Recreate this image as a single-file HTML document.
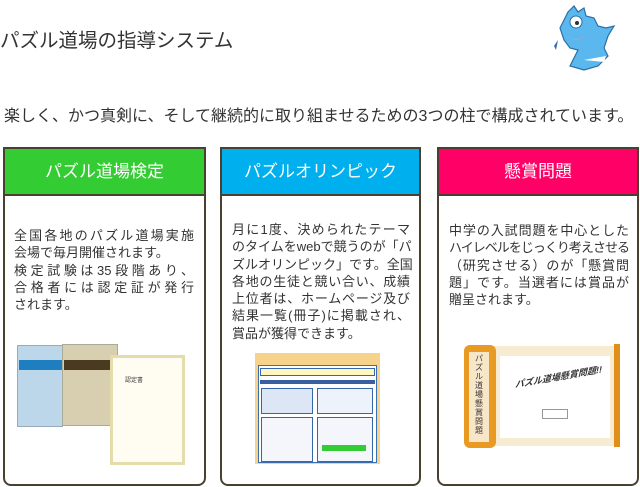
<!DOCTYPE html>
<html><head><meta charset="utf-8"><style>
*{margin:0;padding:0;box-sizing:border-box}
body{width:640px;height:487px;background:#fff;position:relative;overflow:hidden;font-family:"Liberation Sans","Noto Sans CJK JP",sans-serif;color:#333}
.a{position:absolute}
.box{position:absolute;top:147px;height:339px;border:2px solid #4a4030;border-radius:0 0 8px 8px;background:#fff}
.hd{position:absolute;left:0;right:0;top:0;height:47px;border-bottom:2px solid #4a4030;color:#fff;font-size:17px;text-align:center;line-height:45px}
.tx{position:absolute;font-size:13px;line-height:17.3px;color:#333}
.tx div{white-space:nowrap;text-align:justify;text-align-last:justify;text-justify:inter-character}
.tx div.l{text-align-last:left}
</style></head><body>
<div class="a" style="left:0;top:24px;font-size:19.5px;color:#333;white-space:nowrap">パズル道場の指導システム</div>
<svg class="a" style="left:548px;top:4px" width="76" height="68" viewBox="0 0 76 68">
<path d="M20 8 L26 2 L30 8 L36 4 L38 12 L46 14 L50 22 L58 24 L66 22 L60 32 L56 44 L60 52 L50 62 L36 66 L22 62 L26 54 L30 46 L22 44 L16 36 L12 24 Z" fill="#5bb8ee" stroke="#2a6fa8" stroke-width="1.2"/>
<circle cx="28" cy="18" r="6" fill="#fff" stroke="#2a6fa8"/><circle cx="29" cy="19" r="2" fill="#234"/>
<path d="M18 30 Q28 42 38 30 Q30 38 22 34Z" fill="#f08ab0"/>
<path d="M36 56 L56 58 L58 52 Z" fill="#fff"/>
<path d="M6 42 L10 36 L8 46 Z" fill="#2a6fa8"/>
</svg>
<div class="a" style="left:4px;top:102px;font-size:16px;color:#333;white-space:nowrap">楽しく、かつ真剣に、そして継続的に取り組ませるための3つの柱で構成されています。</div>

<div class="box" style="left:3px;width:203px"><div class="hd" style="background:#33cc33">パズル道場検定</div></div>
<div class="box" style="left:220px;width:201px"><div class="hd" style="background:#00b0ee">パズルオリンピック</div></div>
<div class="box" style="left:437px;width:202px"><div class="hd" style="background:#ff0066">懸賞問題</div></div>

<div class="tx" style="left:14px;top:227px;width:180px">
<div>全国各地のパズル道場実施</div>
<div class="l">会場で毎月開催されます。</div>
<div>検定試験は35段階あり、</div>
<div>合格者には認定証が発行</div>
<div class="l">されます。</div>
</div>
<div class="tx" style="left:232px;top:221px;width:178px">
<div>月に1度、決められたテーマ</div>
<div>のタイムをwebで競うのが「パ</div>
<div>ズルオリンピック」です。全国</div>
<div>各地の生徒と競い合い、成績</div>
<div>上位者は、ホームページ及び</div>
<div>結果一覧(冊子)に掲載され、</div>
<div class="l">賞品が獲得できます。</div>
</div>
<div class="tx" style="left:449px;top:222px;width:180px">
<div>中学の入試問題を中心とした</div>
<div style="letter-spacing:-1px">ハイレベルをじっくり考えさせる</div>
<div>（研究させる）のが「懸賞問</div>
<div>題」です。当選者には賞品が</div>
<div class="l">贈呈されます。</div>
</div>

<!-- col1 image -->
<div class="a" style="left:17px;top:345px;width:46px;height:82px;background:#bcd7ea;border:1px solid #9ab"></div>
<div class="a" style="left:19px;top:360px;width:44px;height:10px;background:#1e7ec0"></div>
<div class="a" style="left:62px;top:344px;width:56px;height:82px;background:#d8cfb0;border:1px solid #aa9"></div>
<div class="a" style="left:64px;top:360px;width:52px;height:10px;background:#4a3a20"></div>
<div class="a" style="left:110px;top:355px;width:75px;height:110px;background:#fffdf2;border:3px solid #e4dcaa"></div>
<div class="a" style="left:125px;top:375px;font-size:6px;color:#333">認定書</div>
<!-- col2 image -->
<div class="a" style="left:255px;top:353px;width:125px;height:111px;background:#f7d28a"></div>
<div class="a" style="left:258px;top:365px;width:119px;height:98px;background:#fff;border:1px solid #3c6fb0"></div>
<div class="a" style="left:260px;top:368px;width:115px;height:8px;background:#fff6c0;border:1px solid #36a"></div>
<div class="a" style="left:260px;top:380px;width:115px;height:4px;background:#3a5fa0"></div>
<div class="a" style="left:261px;top:388px;width:52px;height:26px;background:#dde6f4;border:1px solid #36a"></div>
<div class="a" style="left:317px;top:388px;width:56px;height:26px;background:#eef2fa;border:1px solid #36a"></div>
<div class="a" style="left:261px;top:417px;width:52px;height:45px;background:#f4f6fb;border:1px solid #36a"></div>
<div class="a" style="left:317px;top:417px;width:56px;height:45px;background:#f4f6fb;border:1px solid #36a"></div>
<div class="a" style="left:322px;top:445px;width:44px;height:6px;background:#3c3"></div>
<!-- col3 image -->
<div class="a" style="left:480px;top:346px;width:136px;height:100px;background:#f7ecd2"></div>
<div class="a" style="left:500px;top:356px;width:110px;height:82px;background:#fff"></div>
<div class="a" style="left:614px;top:344px;width:6px;height:103px;background:#e0901a"></div>
<div class="a" style="left:464px;top:345px;width:32px;height:103px;background:#e89a22;border-radius:6px"></div>
<div class="a" style="left:469px;top:352px;width:20px;height:90px;background:#f8e6c8"></div>
<div class="a" style="left:472px;top:354px;width:14px;font-size:8px;line-height:9px;color:#333;text-align:center">パズル道場懸賞問題</div>
<div class="a" style="left:515px;top:370px;font-size:9px;font-weight:bold;font-style:italic;color:#333;transform:skewY(-10deg)">パズル道場懸賞問題!!</div>
<div class="a" style="left:542px;top:409px;width:26px;height:10px;border:1px solid #999"></div>
</body></html>
